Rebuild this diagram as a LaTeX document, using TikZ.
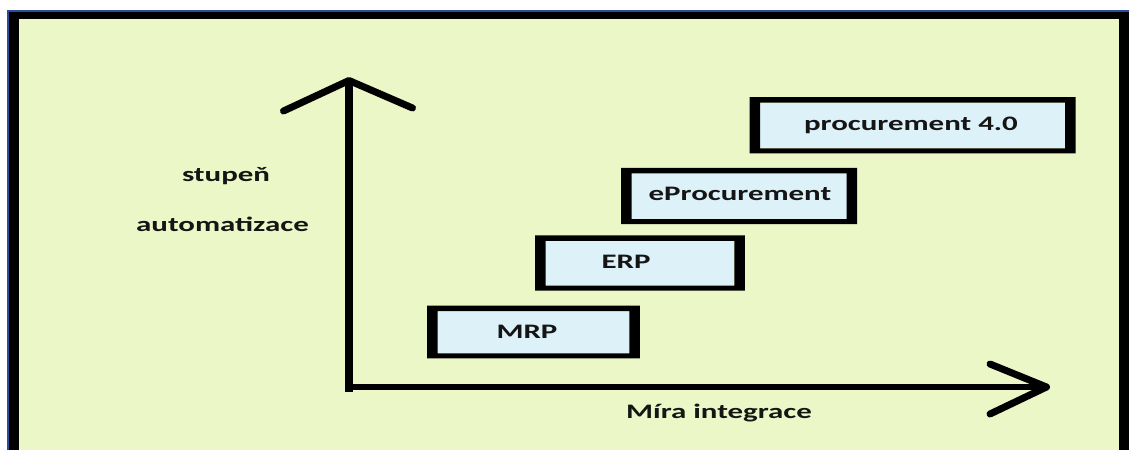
\documentclass[tikz,border=0pt]{standalone}
\usepackage{fontspec}
\newfontfamily\labfont[FakeStretch=1.5]{Carlito}
\definecolor{panel}{HTML}{EBF7C7}
\definecolor{boxblue}{HTML}{DDF1F9}
\definecolor{rim}{HTML}{2B4C9B}
\definecolor{ink}{HTML}{151515}
\tikzset{
  stepbox/.style={draw=none, fill=boxblue, inner sep=0pt, outer sep=0pt},
  lab/.style={anchor=base, inner sep=0pt, text=ink,
    font=\labfont\bfseries\fontsize{20.6}{24}\selectfont},
  axisline/.style={line width=#1, line cap=butt, draw=black},
  arm/.style={line width=7pt, line cap=round, line join=round, draw=black},
}
\begin{document}
\begin{tikzpicture}[x=1pt, y=-1pt]
\useasboundingbox (0,0) rectangle (1129,450);
\fill[white] (0,0) rectangle (1129,450);

% panel with its heavy frame
\fill[panel] (9,12) rectangle (1129,450);
\draw[rim, line width=1.2pt] (8,450) -- (8,11) -- (1129,11);
\fill[black] (9,12) rectangle (19,450);
\fill[black] (9,12) rectangle (1129,19);
\fill[black] (1119,12) rectangle (1129,450);

% stages
\node[stepbox, minimum width=305pt, minimum height=45.6pt] (proc) at (912.5,125.5) {};
\node[stepbox, minimum width=215pt, minimum height=45.7pt] (eproc) at (739.2,196.2) {};
\node[stepbox, minimum width=188.6pt, minimum height=44.7pt] (erp) at (640,263.3) {};
\node[stepbox, minimum width=191.6pt, minimum height=42.3pt] (mrp) at (533.5,332.2) {};
\foreach \n in {proc,eproc,erp,mrp}
  \fill[black, even odd rule]
    ([shift={(-10.5pt,5.5pt)}]\n.north west) rectangle ([shift={(10.5pt,-5pt)}]\n.south east)
    (\n.north west) rectangle (\n.south east);

\node[lab] (proc-t)  at (911,130)   {procurement 4.0};
\node[lab] (eproc-t) at (740,200)   {eProcurement};
\node[lab] (erp-t)   at (626,268.3) {ERP};
\node[lab] (mrp-t)   at (527,338.3) {MRP};

% axes
\coordinate (corner) at (349,391.5);
\coordinate (ytip) at (349,80.5);
\coordinate (xstart) at (345,387);
\coordinate (xtip) at (1046.5,387);
\coordinate (yl) at (283.5,111);
\coordinate (yr) at (412.5,108);
\coordinate (xu) at (990,364);
\coordinate (xd) at (990,414);
\draw[axisline=8.5pt] (corner) -- (ytip);
\draw[axisline=6pt] (xstart) -- (xtip);
\draw[arm] (yl) -- (ytip) -- (yr);
\draw[arm] (xu) -- (xtip) -- (xd);

% axis titles
\node[lab] (ytitle1) at (226,181.7) {stupeň};
\node[lab] (ytitle2) at (222.5,231.7) {automatizace};
\node[lab] (xtitle)  at (719,418.3) {Míra integrace};
\end{tikzpicture}
\end{document}
